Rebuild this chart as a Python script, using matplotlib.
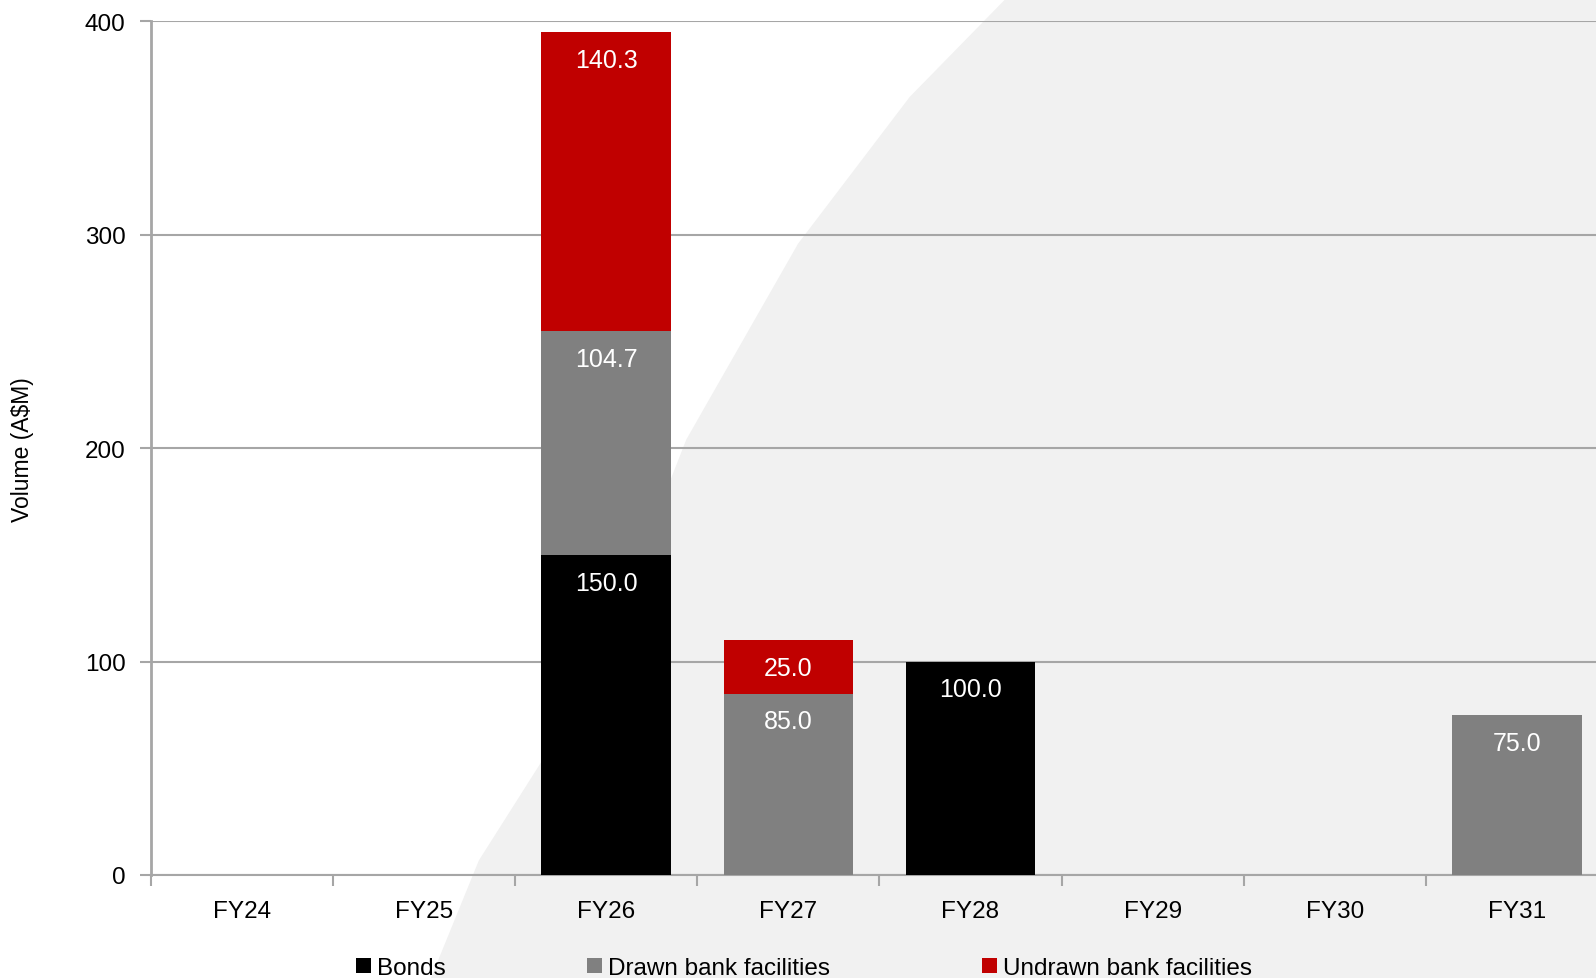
import numpy as np
import matplotlib
matplotlib.use('Agg')
import matplotlib.pyplot as plt
from matplotlib.patches import Patch, Polygon

years = ['FY24', 'FY25', 'FY26', 'FY27', 'FY28', 'FY29', 'FY30', 'FY31']
bonds = [0, 0, 150.0, 0, 100.0, 0, 0, 0]
drawn = [0, 0, 104.7, 85.0, 0, 0, 0, 75.0]
undrawn = [0, 0, 140.3, 25.0, 0, 0, 0, 0]

series = [('Bonds', bonds, '#000000'),
          ('Drawn bank facilities', drawn, '#808080'),
          ('Undrawn bank facilities', undrawn, '#c00000')]

W, H = 1596, 979
fig = plt.figure(figsize=(W / 100, H / 100), dpi=100)

# faint marble-like backdrop on the right side
bg = Polygon([(0.63, 1.0), (1.0, 1.0), (1.0, 0.0), (0.27, 0.0), (0.30, 0.12),
              (0.37, 0.30), (0.43, 0.55), (0.50, 0.75), (0.57, 0.90)],
             closed=True, transform=fig.transFigure, facecolor='#f1f1f1',
             edgecolor='none', zorder=-10)
fig.patches.append(bg)

left = 150.6 / W
bottom = 1 - 876 / H
top = 1 - 22.4 / H
width = 8 * 182.2 / W
ax = fig.add_axes([left, bottom, width, top - bottom])
ax.set_zorder(5)
ax.patch.set_alpha(0)

x = np.arange(len(years))
base = np.zeros(len(years))
for name, vals, col in series:
    vals = np.array(vals)
    ax.bar(x, vals, width=0.71, bottom=base, color=col, zorder=3, label=name)
    for xi, v, b in zip(x, vals, base):
        if v > 0:
            ax.text(xi, b + v - 13, '%.1f' % v, ha='center', va='center',
                    color='white', fontsize=18, family='Liberation Sans', zorder=4)
    base = base + vals

ax.set_xlim(-0.5, len(years) - 0.5)
ax.set_ylim(0, 400)
ax.set_yticks([0, 100, 200, 300, 400])
ax.yaxis.grid(True, color='#a6a6a6', linewidth=1.5, zorder=1)
ax.set_axisbelow(True)

ax.set_xticks(x)
ax.set_xticklabels(years)
ax.set_xticks(np.arange(len(years) + 1) - 0.5, minor=True)
ax.tick_params(axis='x', which='major', length=0, pad=18)
ax.tick_params(axis='x', which='minor', length=8, color='#a6a6a6', width=1.5)
ax.tick_params(axis='y', length=8, color='#a6a6a6', width=1.5, pad=10)
for lab in ax.get_xticklabels() + ax.get_yticklabels():
    lab.set_fontsize(17.5)
    lab.set_family('Liberation Sans')

for s in ['top', 'right']:
    ax.spines[s].set_visible(False)
ax.spines['left'].set_color('#a6a6a6')
ax.spines['left'].set_linewidth(2)
ax.spines['bottom'].set_color('#a6a6a6')
ax.spines['bottom'].set_linewidth(1.5)

ax.set_ylabel('Volume (A\\$M)', fontsize=16.5, family='Liberation Sans')
ax.yaxis.set_label_coords(-0.080, 0.5)

# legend entries placed one by one, as in the original layout
legend_x = [350, 577, 965]
for (name, _, col), lx in zip(series, legend_x):
    fig.legend([Patch(facecolor=col, edgecolor='none')], [name],
               loc='center left', bbox_to_anchor=(lx * 1.018 / W, 1 - 969 / H),
               frameon=False, handlelength=0.6, handleheight=0.6,
               handletextpad=0.25, borderaxespad=0, borderpad=0,
               prop={'family': 'Liberation Sans', 'size': 17.5})

fig.savefig('out.png', dpi=100)
